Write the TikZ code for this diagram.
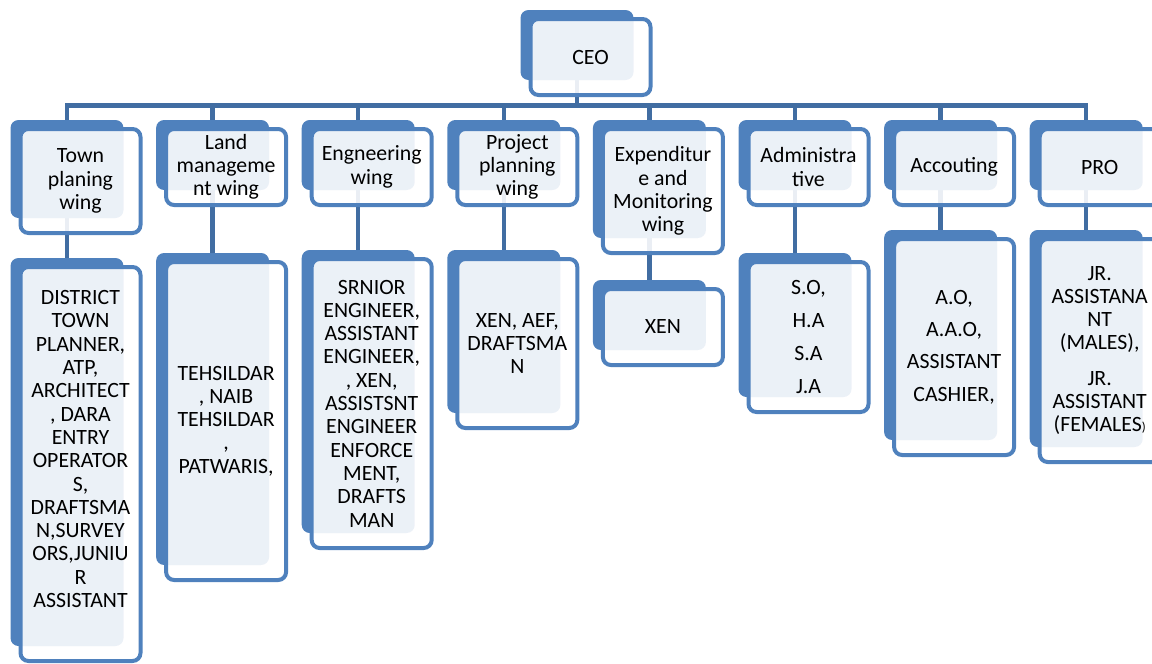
\documentclass[tikz,border=0pt]{standalone}
\usepackage{fontspec}
\setmainfont{Carlito}
\usetikzlibrary{backgrounds}
\definecolor{boxblue}{RGB}{79, 129, 189}
\definecolor{linkblue}{RGB}{65, 109, 162}

\begin{document}
\begin{tikzpicture}[x=1pt, y=-1pt,
  back/.style={fill=boxblue, rounded corners=8pt, inner sep=0pt, minimum width=113pt},
  front/.style={draw=boxblue, line width=4pt, fill=white, fill opacity=0.89, text opacity=1,
                rounded corners=8pt, inner sep=0pt, minimum width=120pt, align=center,
                font=\fontsize{21.8}{23.3}\selectfont},
  link/.style={draw=linkblue, line width=4.5pt}]

  \useasboundingbox (0, 0) rectangle (1152, 664);

  \foreach \nm/\px/\py/\ph/\txt in {ceo/577/10/70/{CEO},
      town/67/120/98/{Town\\planing\\wing}, land/212.6/120/70/{Land\\manageme\\nt wing},
      eng/358.2/120/70/{Engneering\\wing}, proj/503.8/120/70/{Project\\planning\\wing},
      exp/649.4/120/118/{Expenditur\\e and\\Monitoring\\wing}, adm/795/120/70/{Administra\\tive},
      acc/940.6/120/70/{Accouting}, pro/1086.2/120/70/{PRO},
      town-sub/67/258/388/{DISTRICT\\TOWN\\PLANNER,\\ATP,\\ARCHITECT\\, DARA\\ENTRY\\OPERATOR\\S,\\DRAFTSMA\\N,SURVEY\\ORS,JUNIU\\R\\ASSISTANT\\[6.7pt]\mbox{}},
      land-sub/212.6/253/312/{TEHSILDAR\\, NAIB\\TEHSILDAR\\,\\PATWARIS,},
      eng-sub/358.2/250/283/{SRNIOR\\ENGINEER,\\ASSISTANT\\ENGINEER,\\, XEN,\\ASSISTSNT\\ENGINEER\\ENFORCE\\MENT,\\DRAFTS\\MAN},
      proj-sub/503.8/250/163/{XEN, AEF,\\DRAFTSMA\\N},
      exp-sub/649.4/280/70/{XEN},
      adm-sub/795/253/144/{S.O,\\[10pt]H.A\\[10pt]S.A\\[10pt]J.A},
      acc-sub/940.6/230/210/{A.O,\\[9pt]A.A.O,\\[9pt]ASSISTANT\\[9pt]CASHIER,},
      pro-sub/1086.2/230/217/{JR.\\ASSISTANA\\NT\\(MALES),\\[12pt]JR.\\ASSISTANT\\(FEMALES{\fontsize{13}{13}\selectfont)}}} {
    \node[back, minimum height=\ph pt] (\nm-bk) at (\px, {\py+\ph/2}) {};
    \node[front, minimum height=\ph pt+6pt] (\nm) at (\px+13.5, {\py+\ph/2+12}) {\txt};
  }

  \begin{scope}[on background layer]
    \foreach \nm in {town, land, eng, proj, exp, adm, acc, pro} {
      \draw[link] (ceo-bk.south) -- ++(0, 25.5) -| (\nm-bk.north);
      \draw[link] (\nm-bk.south) -- (\nm-sub-bk.north);
    }
  \end{scope}

\end{tikzpicture}
\end{document}
